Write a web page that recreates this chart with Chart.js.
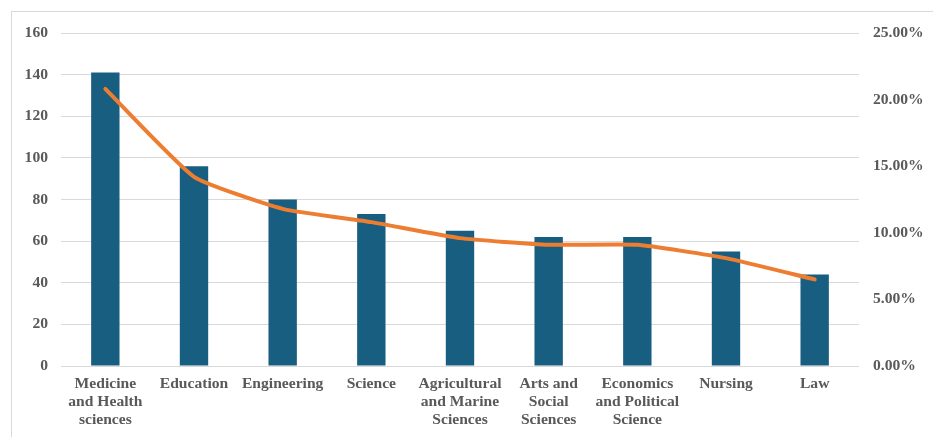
<!DOCTYPE html>
<html>
<head>
<meta charset="utf-8">
<script src="https://cdn.jsdelivr.net/npm/chart.js@4.4.1/dist/chart.umd.min.js"></script>
<style>
  html, body { margin: 0; padding: 0; background: #ffffff; overflow: hidden; }
  #frame { position: absolute; left: 11px; top: 11px; width: 940px; height: 450px; border: 1px solid #d9d9d9; box-sizing: border-box; }
  #wrap { position: absolute; left: 0; top: 0; width: 933px; height: 437px; }
</style>
</head>
<body>
<div id="frame"></div>
<div id="wrap"><canvas id="chart" width="933" height="437"></canvas></div>
<script>
// Faculties (x axis)
const categories = [
  ['Medicine', 'and Health', 'sciences'],
  'Education',
  'Engineering',
  'Science',
  ['Agricultural', 'and Marine', 'Sciences'],
  ['Arts and', 'Social', 'Sciences'],
  ['Economics', 'and Political', 'Science'],
  'Nursing',
  'Law'
];
// Counts per faculty (left axis)
const counts = [141, 96, 80, 73, 65, 62, 62, 55, 44];
// Share of total, in percent (right axis)
const shares = [20.8, 14.2, 11.8, 10.8, 9.6, 9.1, 9.1, 8.1, 6.5];
// Axis tick settings
const countTicks = { min: 0, max: 160, step: 20 };
const shareTicks = { min: 0, max: 25, step: 5 };

const labelFont = { family: '"Liberation Serif", "Times New Roman", serif', size: 15.6, weight: 'bold', lineHeight: 1.15 };
const textColor = '#595959';

new Chart(document.getElementById('chart'), {
  data: {
    labels: categories,
    datasets: [
      {
        type: 'line',
        data: shares,
        yAxisID: 'y2',
        borderColor: '#ED7D31',
        borderWidth: 4,
        borderCapStyle: 'round',
        borderJoinStyle: 'round',
        pointRadius: 0,
        tension: 0.15,
        order: 0
      },
      {
        type: 'bar',
        data: counts,
        yAxisID: 'y',
        backgroundColor: '#175E80',
        categoryPercentage: 1,
        barPercentage: 0.32,
        order: 1
      }
    ]
  },
  options: {
    responsive: false,
    animation: false,
    layout: { padding: { top: 33, left: 0, right: 0, bottom: 0 } },
    plugins: { legend: { display: false }, tooltip: { enabled: false } },
    scales: {
      x: {
        grid: { display: false, drawTicks: false },
        border: { display: false },
        ticks: { color: textColor, font: labelFont, padding: 9, maxRotation: 0, autoSkip: false },
        afterFit(scale) { scale.height = 71; }
      },
      y: {
        position: 'left',
        min: countTicks.min,
        max: countTicks.max,
        grid: { color: '#d9d9d9', lineWidth: 1, drawTicks: false },
        border: { display: false },
        ticks: { stepSize: countTicks.step, color: textColor, font: labelFont, padding: 13 },
        afterFit(scale) { scale.width = 61; }
      },
      y2: {
        position: 'right',
        min: shareTicks.min,
        max: shareTicks.max,
        grid: { display: false, drawTicks: false },
        border: { display: false },
        ticks: {
          stepSize: shareTicks.step,
          color: textColor,
          font: labelFont,
          padding: 14,
          callback: v => v.toFixed(2) + '%'
        },
        afterFit(scale) { scale.width = 74; }
      }
    }
  }
});
</script>
</body>
</html>
